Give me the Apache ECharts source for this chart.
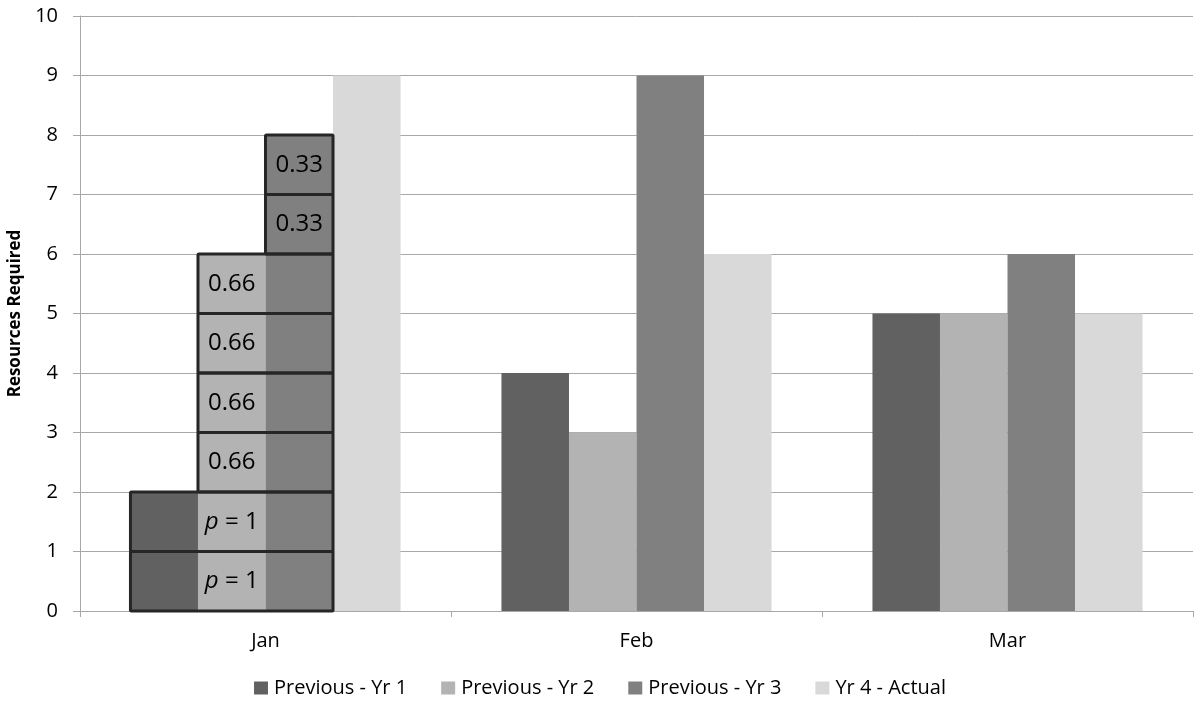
<!DOCTYPE html>
<html><head><meta charset="utf-8">
<script src="https://cdn.jsdelivr.net/npm/echarts@6/dist/echarts.min.js"></script>
<style>html,body{margin:0;padding:0;background:#fff}#c{width:1200px;height:701px}</style>
</head><body><div id="c"></div>
<script>
var categories = ['Jan', 'Feb', 'Mar'];
var seriesNames = ['Previous - Yr 1', 'Previous - Yr 2', 'Previous - Yr 3', 'Yr 4 - Actual'];
var yr1 = [2, 4, 5];
var yr2 = [6, 3, 5];
var yr3 = [8, 9, 6];
var yr4 = [9, 6, 5];
var colors = ['#616161', '#b3b3b3', '#808080', '#d9d9d9'];
// Jan breakdown boxes: [category, yFrom, yTo, firstBar, lastBar, labelBar, label]
var boxes = [
  [0, 0, 1, 0, 2, 1, 'p'],
  [0, 1, 2, 0, 2, 1, 'p'],
  [0, 2, 3, 1, 2, 1, '0.66'],
  [0, 3, 4, 1, 2, 1, '0.66'],
  [0, 4, 5, 1, 2, 1, '0.66'],
  [0, 5, 6, 1, 2, 1, '0.66'],
  [0, 6, 7, 2, 2, 2, '0.33'],
  [0, 7, 8, 2, 2, 2, '0.33']
];
var yTicks = [0, 1, 2, 3, 4, 5, 6, 7, 8, 9, 10];

var FONT = '"Open Sans", sans-serif';
var catGap = 0.272;
var nBars = 4;

var chart = echarts.init(document.getElementById('c'));
var barSeries = [yr1, yr2, yr3, yr4].map(function (d, i) {
  return {
    name: seriesNames[i], type: 'bar', data: d,
    barGap: '0%', barCategoryGap: (catGap * 100) + '%',
    itemStyle: { color: colors[i] }, z: 2
  };
});

function renderBox(params, api) {
  var cat = api.value(0), y0 = api.value(1), y1 = api.value(2);
  var b0 = api.value(3), b1 = api.value(4), lb = api.value(5);
  var lab = boxes[params.dataIndex][6];
  var band = api.size([1, 0])[0];
  var bw = band * (1 - catGap) / nBars;
  var center = api.coord([cat, 0])[0];
  var left = center - bw * nBars / 2;
  var pTop = api.coord([cat, y1])[1];
  var pBot = api.coord([cat, y0])[1];
  var x0 = left + b0 * bw, x1 = left + (b1 + 1) * bw;
  var lx = left + (lb + 0.5) * bw;
  var textStyle;
  if (lab === 'p') {
    textStyle = { text: '{i|p} = 1', x: lx, y: (pTop + pBot) / 2, align: 'center', verticalAlign: 'middle',
      fontSize: 24, fontFamily: FONT, fill: '#000',
      rich: { i: { fontStyle: 'italic', fontSize: 24, fontFamily: FONT, fill: '#000' } } };
  } else {
    textStyle = { text: lab, x: lx, y: (pTop + pBot) / 2, align: 'center', verticalAlign: 'middle',
      fontSize: 24, fontFamily: FONT, fill: '#000' };
  }
  return {
    type: 'group',
    children: [
      { type: 'rect', shape: { x: x0, y: pTop, width: x1 - x0, height: pBot - pTop, r: 1 },
        style: { fill: null, stroke: '#262626', lineWidth: 3 } },
      { type: 'text', style: textStyle, z2: 10 }
    ]
  };
}

chart.setOption({
  animation: false,
  color: colors,
  grid: { left: 80, right: 7, top: 16, bottom: 90, containLabel: false, outerBoundsMode: 'none' },
  legend: {
    data: seriesNames, top: 673, left: 'center', itemWidth: 14, itemHeight: 13, itemGap: 34,
    icon: 'rect', textStyle: { fontFamily: FONT, fontSize: 20, color: '#000', padding: [0, 0, 0, 1] }
  },
  xAxis: {
    type: 'category', data: categories,
    axisLine: { lineStyle: { color: '#a8a8a8', width: 1 } },
    axisTick: { show: true, length: 6, lineStyle: { color: '#a8a8a8' } },
    axisLabel: { fontFamily: FONT, fontSize: 20, color: '#000', margin: 20 }
  },
  yAxis: {
    type: 'value', min: yTicks[0], max: yTicks[yTicks.length - 1], interval: 1,
    name: 'Resources Required', nameLocation: 'middle', nameGap: 56, nameRotate: 90,
    nameTextStyle: { fontFamily: FONT, fontSize: 17, fontWeight: 'bold', color: '#000' },
    axisLine: { show: true, lineStyle: { color: '#a8a8a8' } },
    axisTick: { show: true, length: 7, lineStyle: { color: '#a8a8a8' } },
    splitLine: { lineStyle: { color: '#a8a8a8' } },
    axisLabel: { fontFamily: FONT, fontSize: 20, color: '#000', margin: 22 }
  },
  series: barSeries.concat([{
    type: 'custom', name: 'boxes', data: boxes.map(function (b) { return b.slice(0, 6); }),
    renderItem: renderBox, z: 5, silent: true, encode: { x: 0, y: [1, 2] }
  }])
});
</script></body></html>
